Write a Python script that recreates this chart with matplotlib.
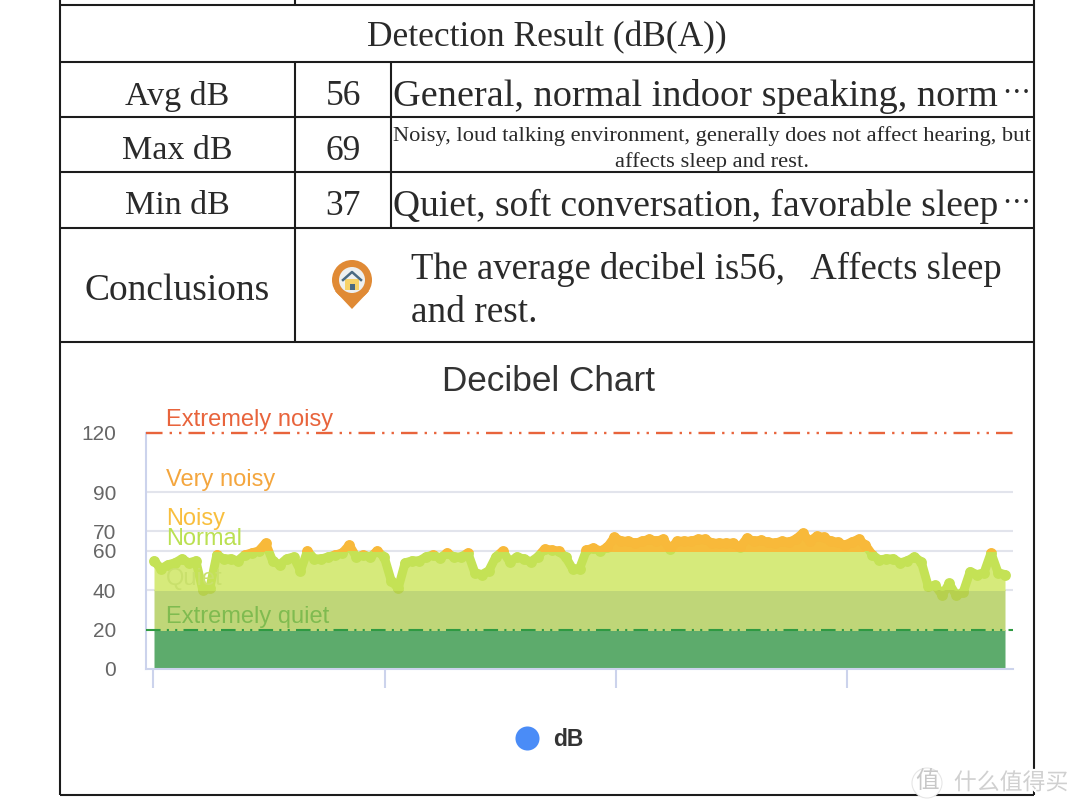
import numpy as np
import matplotlib
matplotlib.use('Agg')
import matplotlib.pyplot as plt
import matplotlib.patheffects as pe
from matplotlib.patches import Circle, Polygon, Rectangle

SERIF = ['Liberation Serif', 'Noto Sans CJK SC', 'DejaVu Sans']
SANS = ['Liberation Sans', 'DejaVu Sans']
CJK = ['Noto Sans CJK SC', 'DejaVu Sans']

# table text
table_title = 'Detection Result (dB(A))'
row_names = ['Avg dB', 'Max dB', 'Min dB']
row_values = ['56', '69', '37']
row_notes = ['General, normal indoor speaking, norm',
             'Noisy, loud talking environment, generally does not affect hearing, but\naffects sleep and rest.',
             'Quiet, soft conversation, favorable sleep']
concl_name = 'Conclusions'
concl_lines = ['The average decibel is56,   Affects sleep', 'and rest.']

# chart data
db_values = [55, 51, 53, 54, 56, 54, 55, 40, 41,
             58, 56, 56, 55, 58, 59, 60, 64, 55, 53, 56, 57, 50, 60, 56, 56, 57, 58,
             59, 63, 57, 58, 57, 60, 57, 45, 41,
             54, 55, 55, 57, 58, 56.5, 59, 57, 57, 59, 49, 48, 50, 57, 60, 54.5, 57,
             56, 54.5, 57, 61, 60.5, 60, 57, 51, 51, 60.5, 61.5, 60, 62,
             67, 65, 65, 64, 65, 66, 65, 66, 61, 65, 65, 65, 66, 66, 64,
             64, 64, 64, 62, 66.5, 65, 65.5, 64.5, 64, 65, 64.5, 66, 69, 65, 67.5, 67,
             65, 64.5, 63, 64.5, 66, 63, 58, 55.5, 56, 56, 54, 55, 57, 54.5, 42, 42.5,
             37.5, 43.5, 37.5, 39, 49.5, 48, 49, 59, 49, 48]
y_ticks = [0, 20, 40, 60, 70, 90, 120]
x_ticks = [-0.1, 33.1, 66.2, 99.4]
band_edges = [0, 20, 40, 60, 120]
band_fill = ['#5dab6c', '#bfd678', '#d6ea7b', '#f7bc3c']
band_line = ['#4f9f5a', '#b6d04e', '#c4e255', '#f8b93a']
label_names = ['Extremely noisy', 'Very noisy', 'Noisy', 'Normal', 'Quiet', 'Extremely quiet']
label_y = [126.5, 96, 76.5, 66, 46, 26.5]
label_colors = ['#e8643c', '#f4a63e', '#f8bf3e', '#bbe052', '#c9e06c', '#7fbb50']

fig = plt.figure(figsize=(10.8, 8.09), dpi=100)

# background axes in pixels, for the table, the icon and the legend
bg = fig.add_axes([0, 0, 1, 1])
bg.set_xlim(0, 1080)
bg.set_ylim(809, 0)
bg.axis('off')

def rule(x0, y0, x1, y1):
    bg.plot([x0, x1], [y0, y1], color='#1c1c1c', lw=1.5, solid_capstyle='butt')

for y in [5, 62, 117, 172, 228, 342, 795]:
    rule(60, y, 1034, y)
rule(60, 0, 60, 795)
rule(1034, 0, 1034, 795)
rule(295, 0, 295, 5)
rule(295, 62, 295, 342)
rule(391, 62, 391, 228)

txt = '#2a2a2a'
bg.text(547, 38, table_title, family=SERIF, fontsize=25.5, color=txt, ha='center', va='center')
for name, val, y in zip(row_names, row_values, [96, 151, 206]):
    bg.text(177, y, name, family=SERIF, fontsize=24.5, color=txt, ha='center', va='center')
    bg.text(343, y, val, family=SERIF, fontsize=25.5, color=txt, ha='center', va='center')
bg.text(393, 96, row_notes[0], family=SERIF, fontsize=27.5, color=txt, ha='left', va='center')
bg.text(1016, 94, '\u22ef', family=CJK, fontsize=20, color=txt, ha='center', va='center')
bg.text(712, 149, row_notes[1], family=SERIF, fontsize=16.2, color=txt, ha='center', va='center', linespacing=1.45)
bg.text(393, 206, row_notes[2], family=SERIF, fontsize=27, color=txt, ha='left', va='center')
bg.text(1016, 204, '\u22ef', family=CJK, fontsize=20, color=txt, ha='center', va='center')
bg.text(177, 291, concl_name, family=SERIF, fontsize=27, color=txt, ha='center', va='center')
bg.text(411, 269, concl_lines[0], family=SERIF, fontsize=26.4, color=txt, ha='left', va='center')
bg.text(411, 313, concl_lines[1], family=SERIF, fontsize=26.8, color=txt, ha='left', va='center')

# pin icon
bg.add_patch(Polygon([[335, 291], [369, 291], [352, 309]], color='#e08a35', lw=0))
bg.add_patch(Circle((352, 280), 20, color='#e08a35', lw=0))
bg.add_patch(Circle((352, 280), 13, color='#eef0f0', lw=0))
bg.add_patch(Rectangle((345, 279), 14, 11, color='#f7d268', lw=0))
bg.plot([343, 352, 361], [280, 272, 280], color='#4a6a82', lw=1.8)
bg.add_patch(Rectangle((350, 284), 5, 6, color='#4a6a82', lw=0))

bg.text(549, 381, 'Decibel Chart', family=SANS, fontsize=25.3, color='#333333', ha='center', va='center')

# legend
bg.scatter([527], [738], s=300, color='#4a8cf7', lw=0)
bg.text(553, 740, 'dB', family=SANS, fontsize=16.5, fontweight='bold', color='#333333', ha='left', va='center')

# watermark
halo = [pe.withStroke(linewidth=3, foreground='white')]
bg.add_patch(Circle((927, 783), 15, facecolor='white', edgecolor='#e6e6e6', lw=0.8, zorder=4))
bg.text(927, 782, '值', family=CJK, fontsize=17, color='#c8c8c8', ha='center', va='center', zorder=5)
bg.text(1011, 783, '什么值得买', family=CJK, fontsize=16.5, color='#d0d0d0', ha='center', va='center',
        path_effects=halo, zorder=5)

# decibel chart
x0_px, x1_px = 154, 1005
px_per_step = (x1_px - x0_px) / (len(db_values) - 1)
ax = fig.add_axes([146 / 1080, (809 - 669) / 809, 867 / 1080, 236 / 809])
ax.patch.set_alpha(0)
ax.set_xlim((146 - x0_px) / px_per_step, (1013 - x0_px) / px_per_step)
ax.set_ylim(0, 120)

x = np.arange(len(db_values))
y = np.array(db_values, dtype=float)

for v in [40, 60, 70, 90]:
    ax.axhline(v, color='#e2e4ec', lw=1.5, zorder=1)

for lo, hi, fc, lc in zip(band_edges[:-1], band_edges[1:], band_fill, band_line):
    clip = Rectangle((-5, lo), 140, hi - lo, transform=ax.transData)
    area = ax.fill_between(x, 0, y, color=fc, lw=0, zorder=2)
    area.set_clip_path(clip)
    line, = ax.plot(x, y, color=lc, lw=6.4, marker='o', ms=7.8, mew=0,
                    solid_joinstyle='round', solid_capstyle='round', zorder=3)
    line.set_clip_path(clip)

dash = (0, (7, 3, 1, 3, 1, 3))
ax.axhline(120, color='#e8643c', lw=1.7, ls=dash, clip_on=False, zorder=4)
ax.axhline(20, color='#2f9a42', lw=1.5, ls=dash, zorder=4)

for name, ly, c in zip(label_names, label_y, label_colors):
    ax.text((166 - x0_px) / px_per_step, ly, name, family=SANS, fontsize=17, color=c,
            ha='left', va='center', zorder=5, clip_on=False)

for s in ['top', 'right']:
    ax.spines[s].set_visible(False)
for s in ['left', 'bottom']:
    ax.spines[s].set_color('#ccd3ec')
    ax.spines[s].set_linewidth(1.5)
ax.set_yticks(y_ticks)
ax.set_xticks(x_ticks)
ax.set_xticklabels([])
ax.tick_params(axis='y', length=0, pad=21.5, labelsize=15, labelcolor='#666666')
ax.tick_params(axis='x', length=14, width=1.5, color='#ccd3ec')
for lab in ax.get_yticklabels():
    lab.set_family(SANS)

fig.savefig('out.png', dpi=100)
